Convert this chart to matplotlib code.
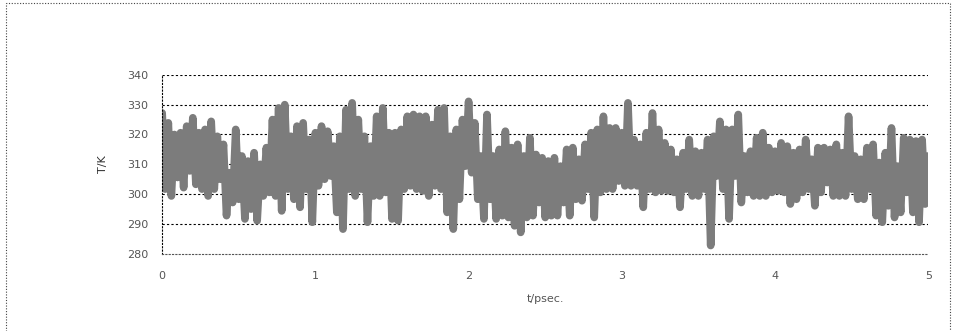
import numpy as np
import matplotlib
matplotlib.use('Agg')
import matplotlib.pyplot as plt
from matplotlib.patches import Rectangle

# temperature trace, one value every 0.02 psec
temp_k = [
    327.2, 301.7, 323.9, 299.4, 320.0, 305.6, 320.6, 302.2, 322.8, 307.8,
    325.6, 303.3, 320.6, 301.7, 321.7, 299.4, 324.4, 301.7, 319.4, 305.0,
    316.7, 292.8, 307.2, 297.2, 321.7, 298.3, 312.8, 291.7, 311.1, 295.0,
    313.9, 291.1, 310.0, 299.4, 315.6, 300.6, 325.0, 299.4, 328.9, 294.4,
    330.0, 301.7, 319.4, 298.3, 322.8, 295.6, 323.9, 301.7, 318.3, 290.6,
    320.6, 302.8, 322.8, 305.0, 321.1, 306.1, 316.1, 293.9, 319.4, 288.3,
    328.3, 301.7, 330.6, 299.4, 325.0, 301.7, 319.4, 290.6, 316.1, 299.4,
    326.1, 299.4, 328.9, 300.6, 320.6, 291.7, 320.6, 291.1, 321.7, 301.7,
    326.1, 302.8, 326.7, 301.7, 326.1, 301.1, 326.1, 299.4, 323.3, 302.8,
    328.3, 301.7, 328.9, 293.9, 319.4, 288.3, 321.7, 298.3, 325.0, 309.4,
    331.1, 307.2, 323.9, 298.3, 312.8, 291.7, 326.7, 298.3, 312.8, 291.7,
    315.0, 292.8, 321.1, 292.2, 315.6, 289.4, 316.7, 287.2, 312.8, 292.2,
    318.9, 292.8, 313.3, 297.2, 312.2, 292.2, 311.1, 292.8, 312.2, 292.8,
    309.4, 297.2, 315.0, 292.8, 315.6, 298.3, 311.7, 297.8, 316.7, 301.7,
    320.6, 292.2, 321.7, 300.6, 326.1, 301.7, 322.2, 301.7, 322.2, 304.4,
    320.6, 302.8, 330.6, 302.8, 318.3, 302.8, 316.7, 295.6, 320.6, 301.7,
    327.2, 300.6, 321.7, 301.1, 317.2, 301.1, 315.0, 300.6, 311.7, 295.6,
    313.9, 301.7, 318.3, 299.4, 314.4, 299.4, 313.9, 301.7, 318.3, 282.8,
    319.4, 306.1, 324.4, 301.7, 321.7, 291.7, 321.7, 306.1, 326.7, 297.2,
    312.8, 300.6, 314.4, 299.4, 318.9, 299.4, 320.6, 299.4, 315.6, 300.6,
    314.4, 301.1, 317.2, 300.6, 316.1, 296.7, 313.9, 298.3, 315.0, 300.6,
    318.3, 301.7, 311.7, 296.1, 315.6, 300.6, 315.6, 303.9, 315.0, 299.4,
    316.7, 299.4, 313.9, 299.4, 326.1, 301.7, 312.8, 298.3, 311.7, 298.3,
    315.6, 301.7, 316.7, 292.8, 310.6, 290.6, 313.9, 296.1, 322.2, 292.2,
    309.4, 293.9, 318.9, 300.6, 318.3, 293.9, 317.8, 290.6, 318.3, 296.7,
    312.8,
]
time_step = 0.02
y_ticks = [280, 290, 300, 310, 320, 330, 340]
x_ticks = [0, 1, 2, 3, 4, 5]

t_psec = np.arange(len(temp_k)) * time_step

fig = plt.figure(figsize=(9.54, 3.31), dpi=100, facecolor='white')
ax = fig.add_axes([0.170, 0.233, 0.803, 0.541])

# 점선 그리드 (가로)
for y in y_ticks[1:]:
    ax.axhline(y, color='black', linestyle=(0, (2, 2)), linewidth=0.8, zorder=1)

# 굵은 회색 선 (원본은 망점 패턴)
ax.plot(t_psec, temp_k, color='#7c7c7c', linewidth=5.5, solid_joinstyle='round',
        solid_capstyle='round', zorder=2)

ax.set_xlim(0, 5)
ax.set_ylim(280, 340)
ax.set_xticks(x_ticks)
ax.set_yticks(y_ticks)
ax.tick_params(length=0, labelsize=8, colors='#555555', pad=10)
ax.tick_params(axis='x', pad=12)

for side in ['top', 'right']:
    ax.spines[side].set_visible(False)
ax.spines['left'].set_linestyle((0, (1, 2)))
ax.spines['bottom'].set_linestyle((0, (1, 2)))
ax.spines['left'].set_linewidth(0.8)
ax.spines['bottom'].set_linewidth(0.8)
ax.spines['bottom'].set_color('#555555')

ax.set_xlabel('t/psec.', fontsize=8, color='#555555', labelpad=10)
ax.set_ylabel('T/K', fontsize=8, color='#333333', labelpad=14)

# 바깥 점선 테두리
fig.patches.append(Rectangle((0.006, -0.02), 0.99, 1.01, transform=fig.transFigure,
                             fill=False, edgecolor='#444444', linewidth=0.8,
                             linestyle=(0, (1, 1.5))))

fig.savefig('out.png', dpi=100, facecolor='white')
